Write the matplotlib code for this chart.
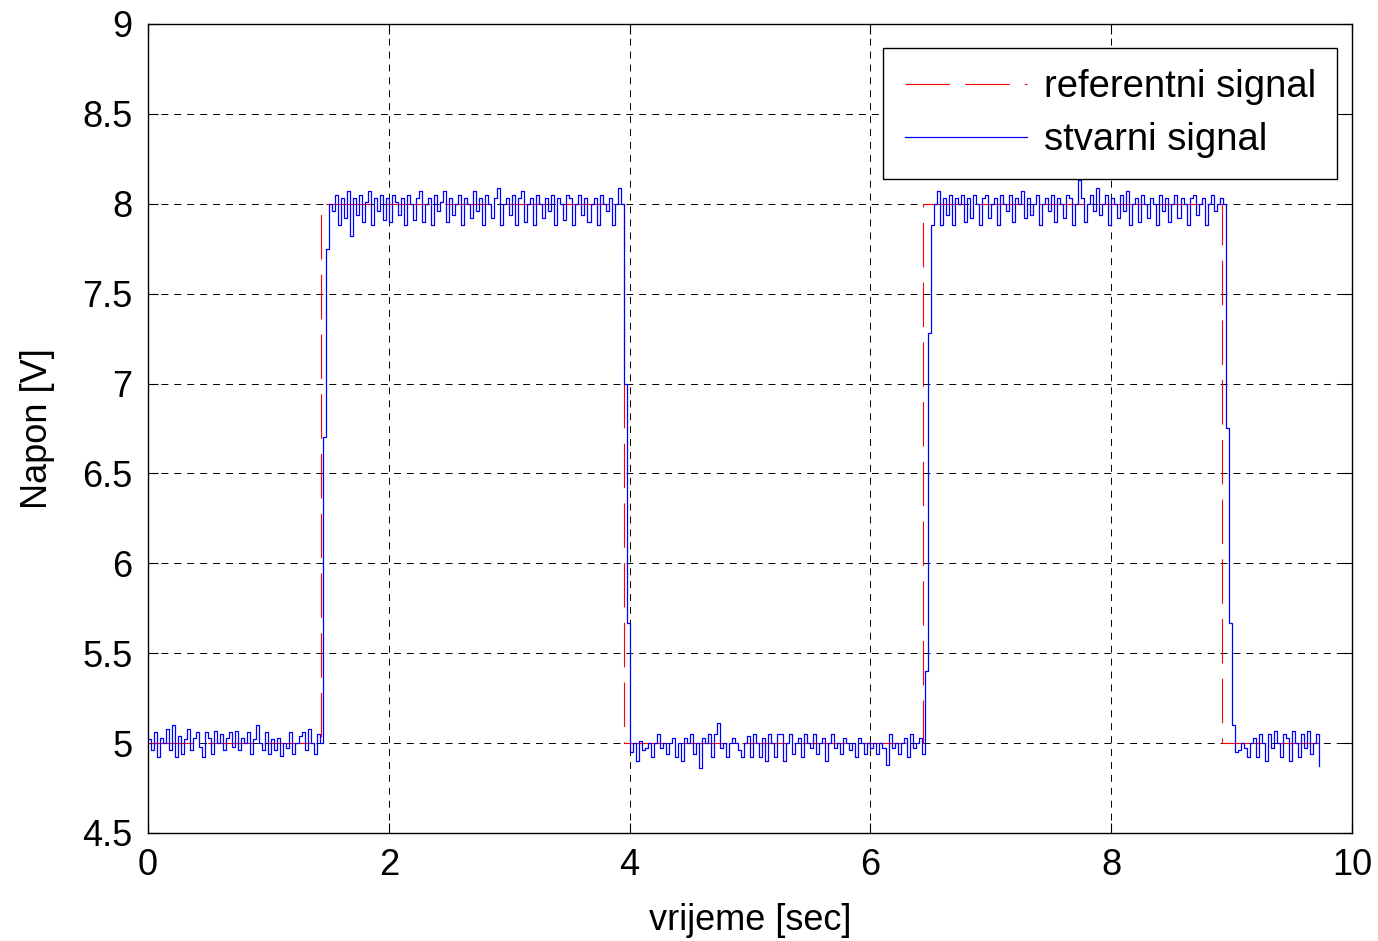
import numpy as np
import matplotlib
matplotlib.use("Agg")
import matplotlib.pyplot as plt

plt.rcParams['font.family'] = ['Liberation Sans', 'DejaVu Sans']
plt.rcParams['lines.scale_dashes'] = False

# vremenski korak uzorkovanja
dt = 0.025

# referentni signal (stepenice)
ref_t = [0.0, 1.44, 1.44, 3.95, 3.95, 6.44, 6.44, 8.92, 8.92, 9.725]
ref_v = [5, 5, 8, 8, 5, 5, 8, 8, 5, 5]

# stvarni signal: odstupanja od razine u stotinkama volta
nisko1 = [2, -4, 6, -8, 3, 0, 8, -4, 10, -8,
          4, -6, 2, 8, -4, 3, 6, -2, -8, 6,
          3, -6, 7, 0, 5, -4, 3, 6, -2, 7,
          -4, 3, 0, 6, -6, 2, 10, 0, -4, 6,
          -6, 2, -4, 3, -7, 0, -3, 6, -6, 0,
          4, 6, -4, 8, 0, -6, 5, 0]
prijelaz1 = [6.70, 7.75]
visoko1 = [0, -4, 5, -12, 3, -8, 7, -18, 3, -6,
           5, -10, 1, 7, -12, 3, -4, 5, -9, 3,
           -10, 5, 1, -6, 3, -12, 5, 0, -9, 3,
           7, -10, 0, 3, -12, 5, -4, 1, 7, -10,
           3, -6, 0, 5, -12, 3, 0, -8, 7, -4,
           3, -12, 5, 0, -8, 3, 9, -12, 0, 3,
           -6, 5, -12, 3, 7, -10, 0, 3, -12, 5,
           0, -8, 3, -4, 5, -12, 3, 0, -9, 5,
           3, -12, 0, 5, -6, 3, -10, 0, 3, -12,
           5, 0, -4, 3, -12, 0, 9, 0]
prijelaz2 = [7.00, 5.67]
nisko2 = [-5, 0, -10, 1, -4, -3, 0, -8, 0, 5,
          -3, 0, -6, 0, 3, -8, 0, -10, 3, 0,
          5, -6, 0, -14, 3, 0, 5, -8, 5, 11,
          -3, 0, -8, 0, 3, 0, -4, -8, 0, 4,
          -8, 5, 0, -8, 3, -10, 5, 0, -8, 5,
          5, -10, 0, 5, -6, 0, 3, -8, 5, 0,
          -3, 5, -6, 0, 3, -10, 0, 5, -3, 0,
          -6, 3, 0, -4, 0, -8, 3, 0, -6, 0,
          -3, 0, -6, 0, -3, -12, 5, -3, 0, -6,
          0, 3, -8, 5, -3, 0, 3, -6]
prijelaz3 = [5.40, 7.28]
visoko2 = [-12, 0, 7, -12, 3, -6, 5, -12, 3, 0,
           5, -10, 3, -8, 5, 0, -12, 3, 5, -8,
           0, 3, -12, 5, 0, -4, 5, -10, 3, 0,
           7, -8, 3, -6, 0, 5, -12, 0, 3, -4,
           5, -10, 3, 0, -8, 5, 3, -12, 0, 13,
           3, -10, 0, 5, -4, 9, -6, 0, 5, -12,
           3, 0, -8, 5, -4, 7, -12, 0, 3, -10,
           5, 0, -8, 3, 0, -12, 5, -4, 3, -10,
           0, 5, -8, 3, 0, -12, 3, 5, -6, 0,
           3, -12, 0, 5, -4, 0, 3, 0]
prijelaz4 = [6.75, 5.67, 5.10]
nisko3 = [-5, -4, 0, -3, -8, 0, 3, -8, 5, 0,
          -10, 5, -3, 7, 0, -8, 5, 3, -10, 7,
          0, -8, 5, -3, 7, -6, 0, 5, -13]

stvarni = np.concatenate([
    5 + np.array(nisko1) / 100.0, prijelaz1,
    8 + np.array(visoko1) / 100.0, prijelaz2,
    5 + np.array(nisko2) / 100.0, prijelaz3,
    8 + np.array(visoko2) / 100.0, prijelaz4,
    5 + np.array(nisko3) / 100.0,
])
t = np.arange(len(stvarni)) * dt

fig = plt.figure(figsize=(13.78, 9.41), dpi=100)
ax = fig.add_axes([0.1074, 0.1148, 0.8738, 0.8597])

ax.plot(ref_t, ref_v, color=(1, 0, 0), lw=0.8, dashes=(32, 11), label='referentni signal')
ax.plot(t, stvarni, color=(0, 0, 1), lw=0.9, drawstyle='steps-post', label='stvarni signal')

ax.set_xlim(0, 10)
ax.set_ylim(4.5, 9)
ax.set_xticks(np.arange(0, 11, 2))
ax.set_yticks(np.arange(4.5, 9.01, 0.5))
ax.set_xticklabels(['0', '2', '4', '6', '8', '10'])
ax.set_yticklabels(['4.5', '5', '5.5', '6', '6.5', '7', '7.5', '8', '8.5', '9'])
ax.tick_params(direction='in', length=7, width=0.8, top=True, right=True,
               labelsize=26, pad=11)
ax.grid(True, color='black', lw=0.7, dashes=(5, 4.3))
for s in ax.spines.values():
    s.set_linewidth(1.0)

ax.set_xlabel('vrijeme [sec]', fontsize=26, labelpad=14)
ax.set_ylabel('Napon [V]', fontsize=26, labelpad=20)

leg = ax.legend(loc='upper right', bbox_to_anchor=(0.9875, 0.9703), borderaxespad=0,
                fontsize=27.5, fancybox=False, framealpha=1, edgecolor='black',
                handlelength=3.2, handletextpad=0.45, labelspacing=0.45, borderpad=0.55)
leg.get_frame().set_linewidth(1.0)

fig.savefig('out.png', dpi=100)
